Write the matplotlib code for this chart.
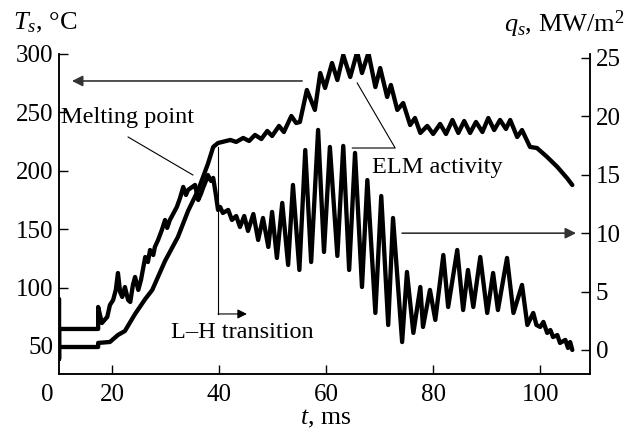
import matplotlib
matplotlib.use("Agg")
import matplotlib.pyplot as plt

plt.rcParams['font.family'] = ['Liberation Serif', 'DejaVu Serif']
plt.rcParams['mathtext.fontset'] = 'custom'
plt.rcParams['mathtext.rm'] = 'Liberation Serif'
plt.rcParams['mathtext.it'] = 'Liberation Serif:italic'
plt.rcParams['font.size'] = 18

# температура поверхности T_s (левая ось)
t_T = [10.1, 17.4, 17.4, 19.6, 21.1, 22.4, 24.3, 26.2, 27.5, 29.9, 32.3, 34.2, 36.1, 37.9, 38.9,
       39.8, 42.1, 43.2, 44.5, 45.6, 46.7, 47.9, 49.0, 49.9, 51.2, 52.1, 53.5, 54.4, 55.1, 56.4,
       57.9, 58.9, 59.8, 61.1, 62.1, 63.2, 64.5, 65.8, 66.7, 67.9, 69.2, 70.1, 71.4, 72.1, 73.3,
       74.4, 75.7, 76.6, 77.6, 78.9, 80.0, 81.3, 82.4, 83.6, 84.7, 85.8, 86.9, 88.0, 89.2, 90.3,
       91.4, 92.5, 93.6, 94.4, 95.7, 96.6, 98.1, 99.4, 101.3, 103.2, 105.0, 106.0]
T_s = [49.1, 49.1, 52.6, 53.4, 59.4, 62.8, 77.4, 90.2, 97.9, 122.8, 143.3, 165.6, 183.6, 205.8, 220.4,
       223.8, 226.4, 224.7, 228.1, 225.5, 230.7, 227.2, 234.1, 229.8, 238.4, 233.2, 246.9, 240.9, 241.8, 269.2,
       252.1, 283.7, 270.9, 292.3, 277.7, 299.1, 280.3, 301.7, 283.7, 300.9, 271.7, 288.0, 263.2, 273.5, 252.1,
       258.0, 239.2, 245.2, 232.4, 238.4, 231.5, 240.1, 231.5, 243.5, 232.4, 242.6, 232.4, 241.8, 233.2, 245.2,
       234.9, 243.5, 235.8, 243.5, 228.9, 234.9, 220.4, 219.5, 211.8, 203.3, 193.8, 187.8]

# тепловой поток q_s (правая ось)
t_q = [10.1, 10.1, 10.1, 17.4, 17.4, 18.1, 19.1, 19.6, 20.2, 20.7, 21.1, 21.5, 21.9, 22.4, 23.0,
       23.4, 23.9, 24.3, 24.9, 25.4, 26.2, 26.7, 27.1, 27.7, 28.0, 28.6, 29.3, 29.9, 30.3, 30.8,
       31.4, 32.1, 32.7, 33.3, 33.8, 34.2, 35.0, 35.5, 36.1, 36.6, 37.0, 37.6, 37.9, 38.5, 38.9,
       39.4, 39.8, 40.2, 40.7, 41.7, 42.4, 43.2, 43.9, 44.7, 45.4, 46.4, 47.3, 48.2, 49.2, 49.9,
       50.8, 51.8, 52.9, 53.8, 55.0, 56.1, 57.2, 58.5, 59.6, 60.7, 62.1, 63.2, 64.3, 65.4, 66.7,
       67.7, 69.2, 70.3, 71.6, 72.5, 74.2, 75.1, 76.3, 77.6, 78.1, 79.4, 80.4, 81.9, 82.8, 84.5,
       85.6, 86.5, 87.5, 88.8, 90.1, 91.2, 92.1, 93.8, 95.0, 96.6, 97.6, 98.7, 99.3, 100.0, 100.6,
       101.3, 101.9, 102.4, 103.2, 103.7, 104.7, 105.2, 105.6, 106.0]
q_s = [4.37, -0.77, 1.80, 1.80, 3.68, 2.31, 2.83, 3.85, 4.28, 5.14, 6.59, 4.97, 4.54, 5.39, 4.28,
       4.11, 5.57, 6.25, 5.14, 5.99, 7.96, 7.53, 8.56, 8.13, 8.82, 9.42, 10.27, 11.13, 10.45, 11.13,
       11.64, 12.24, 13.01, 13.96, 13.27, 13.70, 13.96, 14.13, 12.84, 13.36, 13.87, 14.55, 14.98, 14.47, 14.73,
       13.27, 11.99, 12.24, 11.73, 11.99, 11.13, 11.47, 10.53, 11.47, 10.19, 11.64, 9.42, 11.30, 8.82, 11.82,
       7.88, 12.59, 7.28, 14.13, 6.85, 17.12, 7.53, 18.84, 8.39, 17.38, 8.05, 17.47, 6.85, 16.87, 5.39,
       14.55, 3.17, 13.18, 2.14, 11.30, 0.68, 6.68, 1.46, 5.39, 1.97, 5.14, 2.57, 8.13, 3.68, 8.56,
       3.42, 6.85, 3.68, 7.96, 3.17, 6.59, 3.42, 7.88, 3.17, 5.57, 2.14, 3.17, 2.14, 1.97, 2.40,
       1.46, 1.71, 1.11, 1.28, 0.60, 0.86, 0.17, 0.68, 0.00]

x_ticks = [20, 40, 60, 80, 100]
T_ticks = [50, 100, 150, 200, 250, 300]
q_ticks = [0, 5, 10, 15, 20, 25]

fig = plt.figure(figsize=(6.32, 4.32), dpi=100)
ax = fig.add_axes([0.0934, 0.1343, 0.8401, 0.7407])
ax2 = ax.twinx()

ax.plot(t_T, T_s, color='black', lw=3.1, solid_joinstyle='round', solid_capstyle='round')
ax2.plot(t_q, q_s, color='black', lw=3.1, solid_joinstyle='round', solid_capstyle='round')

ax.set_xlim(10.09, 109.3)
ax.set_ylim(26.0, 300)
ax2.set_ylim(-2.055, 25.34)
ax.set_xticks(x_ticks)
ax.set_yticks(T_ticks)
ax2.set_yticks(q_ticks)

for a in (ax, ax2):
    a.spines['top'].set_visible(False)
    for s in a.spines.values():
        s.set_linewidth(1.1)
    a.tick_params(direction='in', length=6.5, width=1.0, pad=4)
ax.tick_params(axis='x', pad=7)

# "0" в углу
ax.annotate("0", xy=(7.85, 0), xycoords=ax.get_xaxis_transform(),
            xytext=(0, -7), textcoords='offset points', ha='center', va='top')

fig.text(0.020, 0.948, r"$T_s$, °C", ha='left', va='center', fontsize=19)
fig.text(0.989, 0.943, r"$q_s$, MW/m$^2$", ha='right', va='center', fontsize=19)
fig.text(0.515, 0.030, r"$t$, ms", ha='center', va='center', fontsize=18.5)

arrow = dict(arrowstyle='-|>', color='#333333', lw=1.2, mutation_scale=16, shrinkA=0, shrinkB=0)
ax.annotate("", xy=(12.5, 276.9), xytext=(55.5, 276.9), arrowprops=arrow)
ax2.annotate("", xy=(106.7, 10.0), xytext=(74.2, 10.0), arrowprops=arrow)

# Melting point
ax.text(22.9, 246, "Melting point", ha='center', va='center', fontsize=17.5)
ax.plot([23.0, 35.1], [228.9, 196.4], color='black', lw=0.8)

# L-H transition
ax.plot([39.8, 39.8], [220.4, 77.4], color='black', lw=0.8)
ax.annotate("", xy=(45.2, 77.4), xytext=(39.8, 77.4),
            arrowprops=dict(arrowstyle='-|>', color='black', lw=0.8, mutation_scale=14,
                            shrinkA=0, shrinkB=0))
ax.text(44.3, 61.1, "L–H transition", ha='center', va='center', fontsize=17.5)

# ELM activity
ax.plot([65.8, 72.9, 64.9], [275.2, 219.5, 219.5], color='black', lw=0.8)
ax.text(68.6, 202.4, "ELM activity", ha='left', va='center', fontsize=17.5)

fig.savefig("out.png", dpi=100)
